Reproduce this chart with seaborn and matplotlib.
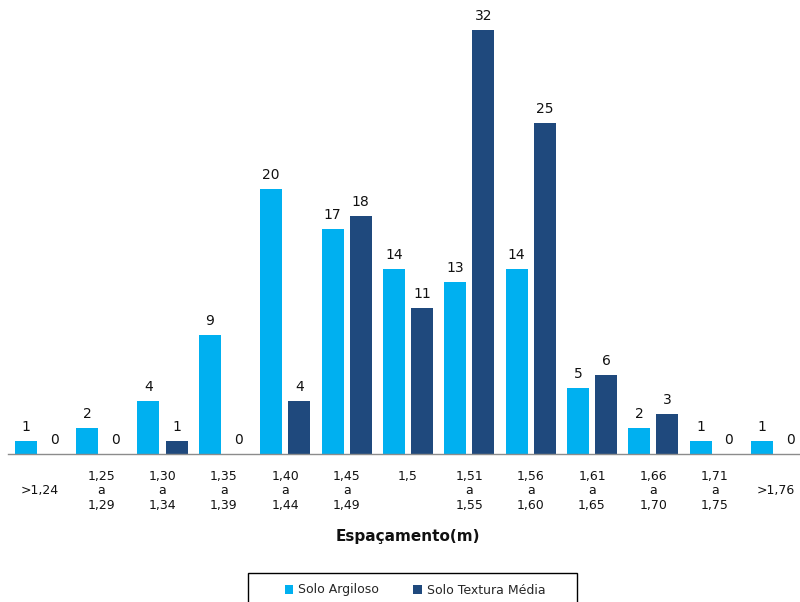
import matplotlib
matplotlib.use("Agg")
import matplotlib.pyplot as plt
import seaborn as sns
import pandas as pd
from matplotlib.patches import Patch, Rectangle

categories = [">1,24", "1,25\na\n1,29", "1,30\na\n1,34", "1,35\na\n1,39", "1,40\na\n1,44",
              "1,45\na\n1,49", "1,5\n \n ", "1,51\na\n1,55", "1,56\na\n1,60", "1,61\na\n1,65",
              "1,66\na\n1,70", "1,71\na\n1,75", ">1,76"]
argiloso = [1, 2, 4, 9, 20, 17, 14, 13, 14, 5, 2, 1, 1]
textura_media = [0, 0, 1, 0, 4, 18, 11, 32, 25, 6, 3, 0, 0]
series_names = ["Solo Argiloso", "Solo Textura Média"]
colors = ["#00B0F0", "#1F497D"]

df = pd.DataFrame({
    "cat": categories * 2,
    "valor": argiloso + textura_media,
    "serie": [series_names[0]] * len(categories) + [series_names[1]] * len(categories),
})

sns.set_style("white")
plt.rcParams["font.family"] = ["DejaVu Sans"]

W, H = 800, 602
fig = plt.figure(figsize=(W / 100, H / 100), dpi=100)
ax = fig.add_axes([8 / W, 1 - 454 / H, 792 / W, 453 / H])

sns.barplot(data=df, x="cat", y="valor", hue="serie", order=categories,
            hue_order=series_names, palette=colors, width=0.92, gap=0.22,
            linewidth=0, saturation=1, ax=ax, legend=False)

for cont in ax.containers:
    ax.bar_label(cont, padding=5, fontsize=10, color="#111111")

ax.set_xlim(-0.52, 12.39)
ax.set_ylim(0, 34.2)
ax.set_yticks([])
ax.set_ylabel("")
for s in ["top", "left", "right"]:
    ax.spines[s].set_visible(False)
ax.spines["bottom"].set_color("#8c8c8c")
ax.spines["bottom"].set_linewidth(1.0)
ax.tick_params(axis="x", length=0, pad=26.5, labelsize=9, labelcolor="#111111")
for lbl in ax.get_xticklabels():
    lbl.set_linespacing(1.15)
    lbl.set_verticalalignment("center")

ax.set_xlabel("Espaçamento(m)", fontsize=11, fontweight="bold", color="#111111")
ax.xaxis.set_label_coords((408 - 8) / 792, -(529 - 454) / 453)

# legend box frame (extends past the lower edge of the figure)
fig.patches.append(Rectangle((248 / W, 1 - 606 / H), 329 / W, 33 / H,
                             transform=fig.transFigure, facecolor="white",
                             edgecolor="black", linewidth=1.0, zorder=1))
handles = [Patch(facecolor=c, edgecolor="none") for c in colors]
fig.legend(handles, series_names, loc="center",
           bbox_to_anchor=(415 / W, 1 - 590 / H),
           ncol=2, frameon=False, fontsize=9, handlelength=0.7, handleheight=0.7,
           handletextpad=0.4, borderpad=0, columnspacing=2.7)

fig.savefig("out.png", dpi=100)
